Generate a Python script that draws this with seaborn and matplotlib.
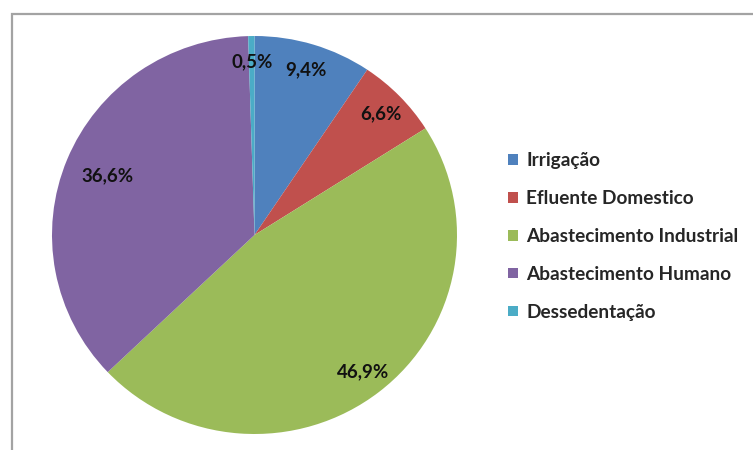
import matplotlib
matplotlib.use("Agg")
import matplotlib.pyplot as plt
from matplotlib.patches import Rectangle, Patch
import seaborn as sns

categories = ["Irrigação", "Efluente Domestico", "Abastecimento Industrial",
              "Abastecimento Humano", "Dessedentação"]
shares = [9.4, 6.6, 46.9, 36.6, 0.5]
colors = ["#4F81BD", "#C0504D", "#9BBB59", "#8064A2", "#4BACC6"]

sns.set_theme(style="white")
plt.rcParams["font.family"] = ["Lato", "DejaVu Sans"]

W, H = 753, 450
fig = plt.figure(figsize=(W / 100, H / 100), dpi=100)
fig.patch.set_facecolor("white")

# chart frame (runs off the right and bottom edges)
fig.patches.append(Rectangle((12 / W, -0.2), 1.2, 1.2 - 14 / H,
                             transform=fig.transFigure, fill=False,
                             edgecolor="#a3a3a3", linewidth=1.6, zorder=0))

# pie area in pixels: x 52..457, y 36..434
ax = fig.add_axes([52 / W, (H - 434) / H, 405 / W, 398 / H])
wedges, texts, autotexts = ax.pie(
    shares, colors=colors, startangle=90, counterclock=False,
    autopct=lambda p: f"{p:.1f}%".replace(".", ","),
    pctdistance=0.87, radius=1,
    wedgeprops=dict(linewidth=0),
    textprops=dict(fontsize=13.5, fontweight="bold", color="#111111"))
ax.set_aspect("auto")
ax.set_xlim(-1, 1)
ax.set_ylim(-1, 1)
ax.axis("off")

# pull the largest left-hand label a little inward
x, y = autotexts[3].get_position()
autotexts[3].set_position((x * 0.9, y * 0.9))

handles = [Patch(facecolor=c, edgecolor="none") for c in colors]
fig.legend(handles, categories, loc="upper left",
           bbox_to_anchor=(508 / W, 1 - 152 / H), frameon=False,
           prop=dict(family=["Lato", "DejaVu Sans"], weight="bold", size=13.7),
           handlelength=0.5, handleheight=0.5, handletextpad=0.45,
           labelspacing=1.1, borderpad=0, borderaxespad=0)

fig.savefig("out.png", dpi=100, facecolor="white")
